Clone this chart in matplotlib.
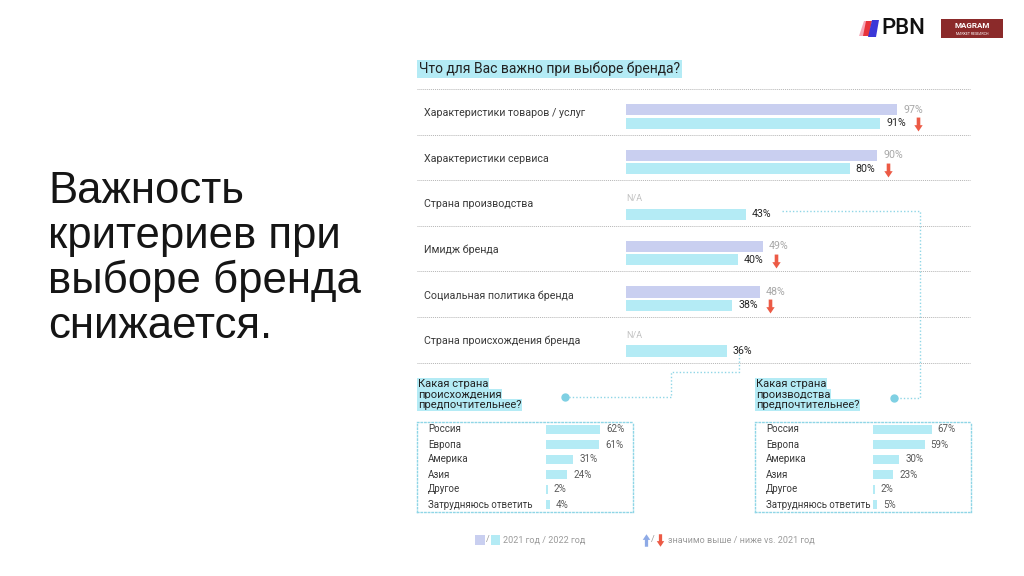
import numpy as np
import matplotlib
matplotlib.use("Agg")
import matplotlib.pyplot as plt
from matplotlib.path import Path
from matplotlib.patches import Rectangle, Polygon

plt.rcParams['font.family'] = ['Roboto', 'DejaVu Sans']

# main question: 2021 vs 2022
criteria = [
    "Характеристики товаров / услуг",
    "Характеристики сервиса",
    "Страна производства",
    "Имидж бренда",
    "Социальная политика бренда",
    "Страна происхождения бренда",
]
share_2021 = [97, 90, None, 49, 48, None]
share_2022 = [91, 80, 43, 40, 38, 36]
signif_lower = [True, True, False, True, True, False]

# follow-up questions
countries = ["Россия", "Европа", "Америка", "Азия", "Другое", "Затрудняюсь ответить"]
origin_pref = [62, 61, 31, 24, 2, 4]
production_pref = [67, 59, 30, 23, 2, 5]

C21 = '#c9cff0'
C22 = '#b4ebf5'
RED = '#ec5a45'
BLUE_ARROW = '#8eaae6'
LINE = '#8fd6e6'
SEP = '#b5b5b5'
TXT = '#3a3a3a'

W, H = 1024, 576
fig = plt.figure(figsize=(W / 100, H / 100), dpi=100)


def px_axes(x0, y0, x1, y1):
    a = fig.add_axes([x0 / W, 1 - y1 / H, (x1 - x0) / W, (y1 - y0) / H])
    a.set_facecolor('none')
    return a


bg = px_axes(0, 0, W, H)
bg.set_xlim(0, W)
bg.set_ylim(H, 0)
bg.axis('off')

# arrow markers
arrow_down = Path(
    [(-0.13, 0.5), (0.13, 0.5), (0.13, -0.05), (0.3, -0.05), (0, -0.5),
     (-0.3, -0.05), (-0.13, -0.05), (-0.13, 0.5)],
    [Path.MOVETO] + [Path.LINETO] * 6 + [Path.CLOSEPOLY])
arrow_up = Path(arrow_down.vertices * np.array([1, -1]), arrow_down.codes)

# big title on the left
title_lines = ["Важность", "критериев при", "выборе бренда", "снижается."]
for k, line in enumerate(title_lines):
    bg.text(48, 203 + 45 * k, line, fontsize=31.5, fontweight='normal',
            family=['Liberation Sans', 'DejaVu Sans'],
            color='#151515', va='baseline', ha='left')

# logos
bg.add_patch(Polygon([(859, 36), (864, 21), (869, 21), (864, 36)], color='#f6a9b9', lw=0))
bg.add_patch(Polygon([(863, 36), (866, 21), (872, 21), (869, 36)], color='#e8343c', lw=0))
bg.add_patch(Polygon([(868, 37), (872, 20), (879, 20), (876, 37)], color='#3b37d8', lw=0))
bg.text(881, 29, "PBN", fontsize=16, fontweight='medium', color='#111111', va='center')
bg.add_patch(Rectangle((941, 19), 62, 19, color='#8b2a2a', lw=0))
bg.text(972, 26, "MAGRAM", fontsize=5.8, fontweight='bold', color='white', ha='center', va='center')
bg.text(972, 34, "MARKET RESEARCH", fontsize=2.6, color='white', ha='center', va='center')

# question title
bg.text(419, 69, "Что для Вас важно при выборе бренда?", fontsize=10, color='#222222',
        va='center', bbox=dict(facecolor=C22, edgecolor='none', pad=1.5))

# main bar chart
scale = 2.794  # px per percent
bar0 = 626
ax = px_axes(417, 89, 972, 362.5)
ax.set_xlim(-(bar0 - 417) / scale, (972 - bar0) / scale)
ax.set_ylim(6, 0)
ax.axis('off')

ax.hlines(np.arange(7), -(bar0 - 417) / scale, (970 - bar0) / scale,
          colors=SEP, linestyles=(0, (1, 1)), lw=0.7, clip_on=False)

rows = np.arange(len(criteria))
y_a = rows + 0.455
y_b = rows + 0.748
idx21 = [i for i in rows if share_2021[i] is not None]
ax.barh(y_a[idx21], [share_2021[i] for i in idx21], height=0.245, color=C21)
ax.barh(y_b, share_2022, height=0.245, color=C22)

for i in rows:
    ax.text(-(bar0 - 424) / scale, i + 0.53, criteria[i], fontsize=7.7,
            color=TXT, va='center', ha='left')
    if share_2021[i] is None:
        ax.text(0, i + 0.40, "N/A", fontsize=6.5, color='#c2c2c2', va='center')
    else:
        ax.text(share_2021[i] + 6 / scale, y_a[i], f"{share_2021[i]}%", fontsize=7.7,
                color='#a8a8a8', va='center')
    ax.text(share_2022[i] + 6 / scale, y_b[i], f"{share_2022[i]}%", fontsize=7.7,
            color='#262626', va='center')
    if signif_lower[i]:
        ax.plot(share_2022[i] + 38 / scale, y_b[i] + 0.02, marker=arrow_down, ms=10,
                color=RED, mec='none', clip_on=False)

# connectors
dots = (0, (1, 1.5))
bg.plot([782, 920, 920, 894], [211, 211, 398, 398], ls=dots, color=LINE, lw=1)
bg.plot([739, 739, 671, 671, 565], [354, 372, 372, 397, 397], ls=dots, color=LINE, lw=1)
bg.plot([565, 894], [397, 398], 'o', ms=5, color='#7fd0e3', ls='none')


def pref_box(x0, xbar, x1, lab_x, values, heading):
    s = 0.875
    a = px_axes(x0, 422, x1, 512)
    a.set_xlim(-(xbar - x0) / s, (x1 - xbar) / s)
    a.set_ylim(5.5, -0.5)
    a.set_xticks([])
    a.set_yticks([])
    for sp in a.spines.values():
        sp.set_linestyle((0, (1, 1.6)))
        sp.set_color(LINE)
        sp.set_linewidth(1)
    pos = np.arange(len(values))
    a.barh(pos, values, height=0.55, color=C22)
    for i, v in enumerate(values):
        a.text(-(xbar - lab_x) / s, i, countries[i], fontsize=7, color=TXT, va='center')
        a.text(v + 6 / s, i, f"{v}%", fontsize=7, color='#5a5a5a', va='center')
    for k, line in enumerate(heading):
        bg.text(x0 + 1, 384 + 10.6 * k, line, fontsize=8, color='#222222', va='center',
                bbox=dict(facecolor=C22, edgecolor='none', pad=0.6))


pref_box(417, 546, 633, 428, origin_pref, ["Какая страна", "происхождения", "предпочтительнее?"])
pref_box(755, 873, 971, 766, production_pref, ["Какая страна", "производства", "предпочтительнее?"])

# legend
bg.add_patch(Rectangle((475, 535), 10, 10, color=C21, lw=0))
bg.text(486, 540, "/", fontsize=6.5, color='#9a9a9a', va='center')
bg.add_patch(Rectangle((491, 535), 9, 10, color=C22, lw=0))
bg.text(503, 540, "2021 год / 2022 год", fontsize=6.5, color='#9a9a9a', va='center')
bg.plot(646, 540, marker=arrow_up, ms=9, color=BLUE_ARROW, mec='none')
bg.text(651, 540, "/", fontsize=6.5, color='#9a9a9a', va='center')
bg.plot(660, 540, marker=arrow_down, ms=9, color=RED, mec='none')
bg.text(668, 540, "значимо выше / ниже vs. 2021 год", fontsize=6.5, color='#9a9a9a', va='center')

fig.savefig("out.png", dpi=100, facecolor='white')
